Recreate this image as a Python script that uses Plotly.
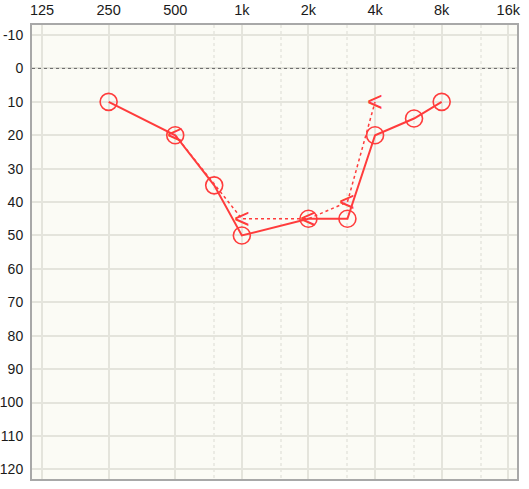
import math
import plotly.graph_objects as go

# Air conduction (right ear, circles)
air_freq = [250, 500, 750, 1000, 2000, 3000, 4000, 6000, 8000]
air_db = [10, 20, 35, 50, 45, 45, 20, 15, 10]

# Bone conduction (right ear, "<")
bone_freq = [500, 1000, 2000, 3000, 4000]
bone_db = [20, 45, 45, 40, 10]

x_tick_vals = [125, 250, 500, 1000, 2000, 4000, 8000, 16000]
x_tick_text = ["125", "250", "500", "1k", "2k", "4k", "8k", "16k"]
x_half_vals = [750, 1500, 3000, 6000, 12000]
y_tick_vals = list(range(-10, 121, 10))
y_tick_text = [str(v) for v in y_tick_vals]

RED = "rgb(255,60,60)"
GRID = "#e4e4dc"
FONT = "Liberation Sans"

fig = go.Figure()

fig.add_trace(go.Scatter(
    x=bone_freq, y=bone_db, mode="lines",
    line=dict(color=RED, width=1.5, dash="dot"),
    hoverinfo="skip", showlegend=False,
))

for f, db in zip(bone_freq, bone_db):
    fig.add_annotation(x=math.log10(f), y=db, xref="x", yref="y", text="<",
                       showarrow=False, xanchor="center", yanchor="middle",
                       yshift=0, font=dict(family=FONT, size=27, color=RED))

fig.add_trace(go.Scatter(
    x=air_freq, y=air_db, mode="lines+markers",
    line=dict(color=RED, width=2),
    marker=dict(symbol="circle-open", size=17, color=RED, line=dict(width=1.6, color=RED)),
    showlegend=False,
))

fig.add_shape(type="line", xref="paper", yref="y", x0=0, x1=1, y0=0, y1=0,
              line=dict(color="#666666", width=1, dash="dot"), layer="above")

log2 = math.log10(2)
x_left = math.log10(125) - (10 / 66.6) * log2
x_right = math.log10(16000) + (8.7 / 66.6) * log2

fig.update_layout(
    width=529, height=489,
    margin=dict(l=32, r=12, t=25, b=10),
    paper_bgcolor="white",
    plot_bgcolor="#fbfbf5",
    font=dict(family=FONT, size=14, color="#1a1a1a"),
    xaxis=dict(
        type="log", range=[x_left, x_right], side="top", automargin=False,
        tickmode="array", tickvals=x_tick_vals, ticktext=x_tick_text,
        showgrid=True, gridcolor=GRID, gridwidth=2,
        minor=dict(tickmode="array", tickvals=x_half_vals, showgrid=True,
                   gridcolor="#ebebe4", gridwidth=1.5, griddash="dot", ticks=""),
        showline=True, linecolor="#a8a8a8", linewidth=2, mirror=True,
        ticks="", zeroline=False, ticklabelstandoff=2,
        tickfont=dict(family=FONT, size=14.5, color="#1a1a1a"),
    ),
    yaxis=dict(
        range=[122.9, -13.0], automargin=False,
        tickmode="array", tickvals=y_tick_vals, ticktext=y_tick_text,
        showgrid=True, gridcolor=GRID, gridwidth=2,
        showline=True, linecolor="#a8a8a8", linewidth=2, mirror=True,
        ticks="", zeroline=False, ticklabelstandoff=4,
        tickfont=dict(family=FONT, size=14, color="#1a1a1a"),
    ),
)

fig.write_html("out.html", config={"displayModeBar": False},
               post_script="document.body.style.margin='0';")
